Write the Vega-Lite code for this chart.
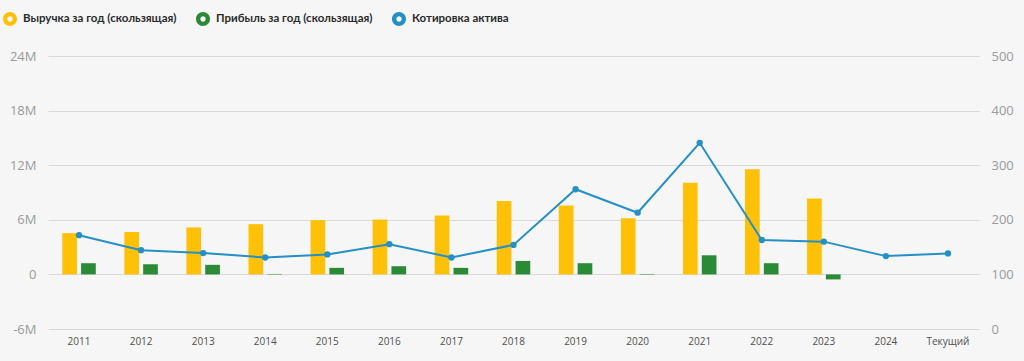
{
  "$schema": "https://vega.github.io/schema/vega-lite/v6.json",
  "autosize": "none",
  "width": 931,
  "height": 273,
  "padding": {"left": 48, "top": 56, "right": 45, "bottom": 32},
  "background": "#F6F6F6",
  "config": {
    "view": {"stroke": null},
    "font": "Open Sans",
    "axis": {"domain": false, "ticks": false}
  },
  "datasets": {
    "main": [
      {"year": "2011", "series": "Выручка за год (скользящая)", "value": 4.54},
      {"year": "2012", "series": "Выручка за год (скользящая)", "value": 4.65},
      {"year": "2013", "series": "Выручка за год (скользящая)", "value": 5.16},
      {"year": "2014", "series": "Выручка за год (скользящая)", "value": 5.52},
      {"year": "2015", "series": "Выручка за год (скользящая)", "value": 5.96},
      {"year": "2016", "series": "Выручка за год (скользящая)", "value": 6.03},
      {"year": "2017", "series": "Выручка за год (скользящая)", "value": 6.47},
      {"year": "2018", "series": "Выручка за год (скользящая)", "value": 8.07},
      {"year": "2019", "series": "Выручка за год (скользящая)", "value": 7.56},
      {"year": "2020", "series": "Выручка за год (скользящая)", "value": 6.17},
      {"year": "2021", "series": "Выручка за год (скользящая)", "value": 10.07},
      {"year": "2022", "series": "Выручка за год (скользящая)", "value": 11.56},
      {"year": "2023", "series": "Выручка за год (скользящая)", "value": 8.35},
      {"year": "2011", "series": "Прибыль за год (скользящая)", "value": 1.23},
      {"year": "2012", "series": "Прибыль за год (скользящая)", "value": 1.12},
      {"year": "2013", "series": "Прибыль за год (скользящая)", "value": 1.05},
      {"year": "2014", "series": "Прибыль за год (скользящая)", "value": 0.05},
      {"year": "2015", "series": "Прибыль за год (скользящая)", "value": 0.72},
      {"year": "2016", "series": "Прибыль за год (скользящая)", "value": 0.9},
      {"year": "2017", "series": "Прибыль за год (скользящая)", "value": 0.72},
      {"year": "2018", "series": "Прибыль за год (скользящая)", "value": 1.48},
      {"year": "2019", "series": "Прибыль за год (скользящая)", "value": 1.23},
      {"year": "2020", "series": "Прибыль за год (скользящая)", "value": 0.05},
      {"year": "2021", "series": "Прибыль за год (скользящая)", "value": 2.1},
      {"year": "2022", "series": "Прибыль за год (скользящая)", "value": 1.23},
      {"year": "2023", "series": "Прибыль за год (скользящая)", "value": -0.55}
    ],
    "price": [
      {"year": "2011", "series": "Котировка актива", "price": 171.8},
      {"year": "2012", "series": "Котировка актива", "price": 144.4},
      {"year": "2013", "series": "Котировка актива", "price": 139},
      {"year": "2014", "series": "Котировка актива", "price": 131},
      {"year": "2015", "series": "Котировка актива", "price": 136.6},
      {"year": "2016", "series": "Котировка актива", "price": 155.4},
      {"year": "2017", "series": "Котировка актива", "price": 131},
      {"year": "2018", "series": "Котировка актива", "price": 154},
      {"year": "2019", "series": "Котировка актива", "price": 256},
      {"year": "2020", "series": "Котировка актива", "price": 213},
      {"year": "2021", "series": "Котировка актива", "price": 341},
      {"year": "2022", "series": "Котировка актива", "price": 163},
      {"year": "2023", "series": "Котировка актива", "price": 160},
      {"year": "2024", "series": "Котировка актива", "price": 133.5},
      {"year": "Текущий", "series": "Котировка актива", "price": 138.5}
    ]
  },
  "encoding": {
    "x": {
      "field": "year",
      "type": "nominal",
      "sort": null,
      "scale": {
        "domain": ["2011","2012","2013","2014","2015","2016","2017","2018","2019","2020","2021","2022","2023","2024","Текущий"],
        "paddingInner": 0.46,
        "paddingOuter": 0.23
      },
      "axis": {
        "title": null,
        "labelAngle": 0,
        "labelFontSize": 10,
        "labelColor": "#505050",
        "labelPadding": 7,
        "grid": false
      }
    }
  },
  "layer": [
    {
      "data": {"name": "main"},
      "mark": {"type": "bar"},
      "encoding": {
        "xOffset": {
          "field": "series",
          "type": "nominal",
          "scale": {"domain": ["Выручка за год (скользящая)", "Прибыль за год (скользящая)"], "paddingInner": 0.22}
        },
        "y": {
          "field": "value",
          "type": "quantitative",
          "scale": {"domain": [-6, 24], "nice": false, "zero": false},
          "axis": {
            "title": null,
            "values": [-6, 0, 6, 12, 18, 24],
            "labelExpr": "datum.value == 0 ? '0' : datum.value + 'M'",
            "labelFontSize": 13,
            "labelColor": "#9A9A9A",
            "labelPadding": 12,
            "gridColor": "#D9D9D9",
            "gridWidth": 1.2
          }
        },
        "color": {
          "field": "series",
          "type": "nominal",
          "scale": {
            "domain": ["Выручка за год (скользящая)", "Прибыль за год (скользящая)", "Котировка актива"],
            "range": ["#FFC107", "#2B8A36", "#2490C6"]
          },
          "legend": {
            "title": null,
            "orient": "none",
            "direction": "horizontal",
            "legendX": -45,
            "legendY": -44,
            "symbolType": "M -1 0 A 1 1 0 1 0 1 0 A 1 1 0 1 0 -1 0 Z M -0.38 0 A 0.38 0.38 0 1 1 0.38 0 A 0.38 0.38 0 1 1 -0.38 0 Z",
            "symbolSize": 196,
            "symbolStrokeWidth": 0,
            "labelFont": "Lato",
            "labelFontSize": 11.5,
            "labelFontWeight": "bold",
            "labelColor": "#2A2A2A",
            "labelLimit": 0,
            "labelOffset": 6,
            "columnPadding": 19,
            "symbolOpacity": 1
          }
        }
      }
    },
    {
      "data": {"name": "price"},
      "mark": {"type": "line", "strokeWidth": 2, "point": {"filled": true, "size": 40}},
      "encoding": {
        "y": {
          "field": "price",
          "type": "quantitative",
          "scale": {"domain": [0, 500], "nice": false},
          "axis": {
            "title": null,
            "orient": "right",
            "values": [0, 100, 200, 300, 400, 500],
            "grid": false,
            "labelFontSize": 13,
            "labelColor": "#9A9A9A",
            "labelPadding": 12
          }
        },
        "color": {"field": "series", "type": "nominal"}
      }
    }
  ],
  "resolve": {"scale": {"y": "independent"}}
}
